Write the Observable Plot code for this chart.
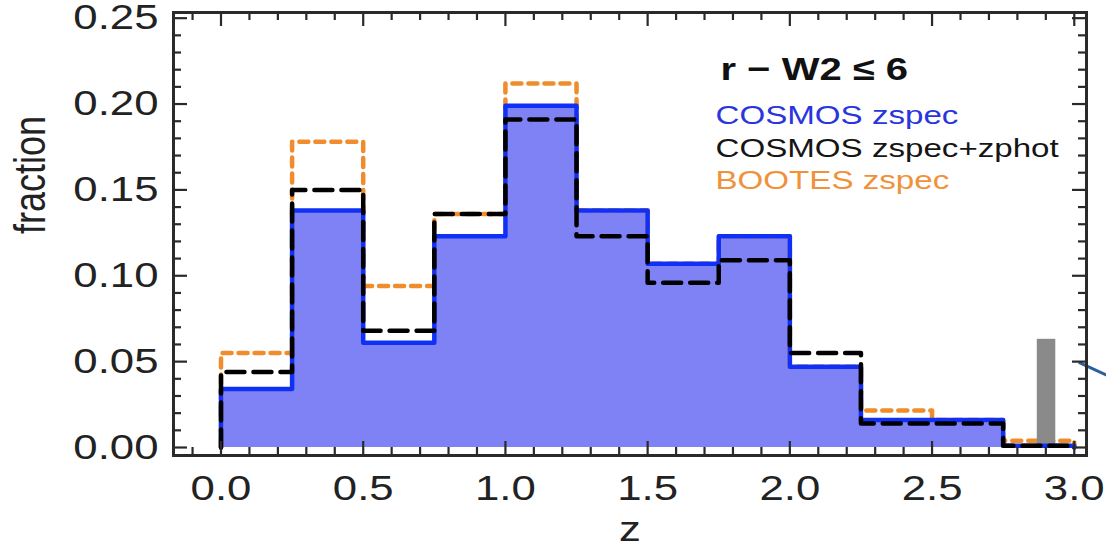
<!DOCTYPE html>
<html>
<head>
<meta charset="utf-8">
<script src="https://cdn.jsdelivr.net/npm/d3@7"></script>
<script src="https://cdn.jsdelivr.net/npm/@observablehq/plot@0.6"></script>
<style>
  html, body { margin: 0; padding: 0; background: #fff; }
</style>
</head>
<body>
<script>
// ---- data ----
const binEdges = [0, 0.25, 0.5, 0.75, 1.0, 1.25, 1.5, 1.75, 2.0, 2.25, 2.5, 2.75, 3.0];
const cosmosZspec      = [0.034, 0.138, 0.061, 0.123, 0.199, 0.138, 0.107, 0.123, 0.047, 0.016, 0.016, 0.001];
const cosmosZspecZphot = [0.044, 0.150, 0.068, 0.136, 0.191, 0.123, 0.096, 0.109, 0.055, 0.014, 0.014, 0.001];
const bootesZspec      = [0.055, 0.178, 0.094, 0.136, 0.212, 0.138, 0.107, 0.123, 0.047, 0.0215, 0.016, 0.004];
const greyBar = [{x1: 2.87, x2: 2.935, y: 0.063}];
const arrowLine = [{x1: 3.016, y1: 0.0496, x2: 3.115, y2: 0.042}];
const xMajorTicks = [0.0, 0.5, 1.0, 1.5, 2.0, 2.5, 3.0];
const yMajorTicks = [0.00, 0.05, 0.10, 0.15, 0.20, 0.25];
const titleText = "r \u2212 W2 \u2264 6";
const legendLabels = ["COSMOS zspec", "COSMOS zspec+zphot", "BOOTES zspec"];
const legendColors = ["#2a35dd", "#151515", "#f0923a"];
const xLabel = "z";
const yLabel = "fraction";

// ---- styling ----
const W = 1106, H = 556;
const mL = 173, mR = 20, mT = 12, mB = 101;
const frameW = W - mL - mR, frameH = H - mT - mB;
const majorLen = 14, minorLen = 8;
const axisColor = "#2a2a2a";

const xMinorTicks = d3.range(-1, 31).map(i => i / 10).filter(v => !xMajorTicks.some(m => Math.abs(m - v) < 1e-9));
const yMinorTicks = d3.range(0, 26).map(i => i / 100).filter(v => !yMajorTicks.some(m => Math.abs(m - v) < 1e-9));

function stepPoints(vals) {
  const pts = [{x: binEdges[0], y: 0}];
  vals.forEach((v, i) => pts.push({x: binEdges[i], y: v}));
  pts.push({x: binEdges[vals.length], y: vals[vals.length - 1]});
  pts.push({x: binEdges[vals.length], y: 0});
  return pts;
}
const bluePts = stepPoints(cosmosZspec);
const blackPts = stepPoints(cosmosZspecZphot);
const orangePts = stepPoints(bootesZspec);

const ticksX = (vals, len) => [
  Plot.tickX(vals, {x: d => d, insetTop: frameH - len, stroke: axisColor, strokeWidth: 2.2}),
  Plot.tickX(vals, {x: d => d, insetBottom: frameH - len, stroke: axisColor, strokeWidth: 2.2})
];
const ticksY = (vals, len) => [
  Plot.tickY(vals, {y: d => d, insetRight: frameW - len, stroke: axisColor, strokeWidth: 2.2}),
  Plot.tickY(vals, {y: d => d, insetLeft: frameW - len, stroke: axisColor, strokeWidth: 2.2})
];

const chart = Plot.plot({
  width: W, height: H,
  marginLeft: mL, marginRight: mR, marginTop: mT, marginBottom: mB,
  style: {fontFamily: "'Liberation Sans', Arial, Helvetica, sans-serif", background: "#fff", overflow: "visible"},
  x: {domain: [-0.167, 3.043], axis: null},
  y: {domain: [-0.00466, 0.2533], axis: null},
  marks: [
    Plot.areaY(bluePts, {x: "x", y: "y", curve: "step-after", fill: "#7f82f5"}),
    Plot.line(orangePts, {x: "x", y: "y", curve: "step-after", stroke: "#f08c2c", strokeWidth: 4.5, strokeDasharray: "9,7"}),
    Plot.rectY(greyBar, {x1: "x1", x2: "x2", y: "y", fill: "#8a8a8a"}),
    Plot.line(bluePts, {x: "x", y: "y", curve: "step-after", stroke: "#1030f5", strokeWidth: 4.5}),
    Plot.line(blackPts, {x: "x", y: "y", curve: "step-after", stroke: "#000", strokeWidth: 4.5, strokeDasharray: "18,9"}),
    Plot.link(arrowLine, {x1: "x1", y1: "y1", x2: "x2", y2: "y2", stroke: "#2b5f9e", strokeWidth: 3}),
    ...ticksX(xMinorTicks, minorLen),
    ...ticksX(xMajorTicks, majorLen),
    ...ticksY(yMinorTicks, minorLen),
    ...ticksY(yMajorTicks, majorLen),
    Plot.frame({stroke: axisColor, strokeWidth: 3}),
    Plot.axisX(xMajorTicks, {tickSize: 0, tickPadding: 20, tickFormat: d3.format(".1f"), fontSize: 35, fill: "#222", label: null}),
    Plot.axisY(yMajorTicks, {tickSize: 0, tickPadding: 15, tickFormat: d3.format(".2f"), fontSize: 35, fill: "#222", label: null}),
    Plot.text([yLabel], {text: d => d, frameAnchor: "left", dx: -143, rotate: -90, fontSize: 36, fill: "#222"}),
    Plot.text([xLabel], {text: d => d, frameAnchor: "bottom", dy: 85, fontSize: 35, fill: "#222"}),
    Plot.text([titleText], {text: d => d, frameAnchor: "top-left", dx: 547, dy: 44.4, textAnchor: "start", fontSize: 32, fontWeight: "bold", fill: "#111"}),
    ...legendLabels.map((lab, i) =>
      Plot.text([lab], {text: d => d, frameAnchor: "top-left", dx: 542, dy: 92.4 + i * 32.8, textAnchor: "start", fontSize: 26.5, fill: legendColors[i]}))
  ]
});
document.body.append(chart);

// horizontal stretch of all texts (the reference's lettering is widened)
const K = 1.25;
const svgRect = chart.getBoundingClientRect();
const jobs = [];
chart.querySelectorAll("text").forEach(t => {
  const r = t.getBoundingClientRect();
  const anchor = getComputedStyle(t).textAnchor;
  let cx = r.left - svgRect.left + r.width / 2;
  if (anchor === "end" && r.height < r.width * 2) cx = r.right - svgRect.left;
  if (anchor === "start" && r.height < r.width * 2) cx = r.left - svgRect.left;
  jobs.push([t, cx]);
});
jobs.forEach(([t, cx]) => {
  const parent = t.parentNode;
  const m = parent.getCTM();
  const px = m ? (cx - m.e) / m.a : cx;
  const g = document.createElementNS("http://www.w3.org/2000/svg", "g");
  g.setAttribute("transform", `translate(${px},0) scale(${K},1) translate(${-px},0)`);
  parent.insertBefore(g, t);
  g.appendChild(t);
});
</script>
</body>
</html>
